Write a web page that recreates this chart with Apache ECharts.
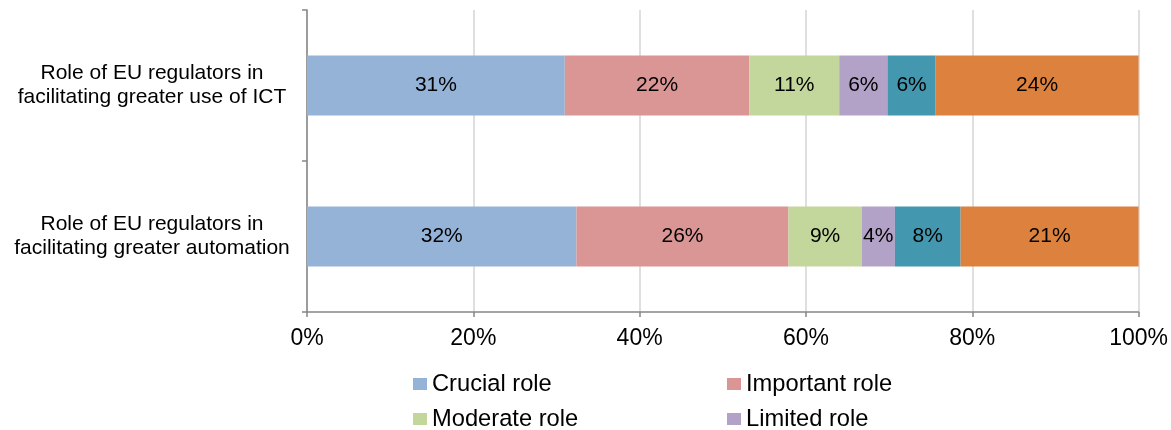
<!DOCTYPE html>
<html>
<head>
<meta charset="utf-8">
<script src="https://cdn.jsdelivr.net/npm/echarts@6/dist/echarts.min.js"></script>
<style>
html,body{margin:0;padding:0;background:#fff;}
#chart{width:1171px;height:430px;}
</style>
</head>
<body>
<div id="chart"></div>
<script>
const categories = ['Role of EU regulators in\nfacilitating greater use of ICT', 'Role of EU regulators in\nfacilitating greater automation'];
const seriesNames = ['Crucial role', 'Important role', 'Moderate role', 'Limited role', 'No role', "Don't know"];
const crucial = [31.0, 32.4];
const important = [22.2, 25.5];
const moderate = [10.8, 8.8];
const limited = [5.8, 4.0];
const noRole = [5.8, 7.9];
const dontKnow = [24.4, 21.4];
const xTicks = [0, 20, 40, 60, 80, 100];

const colors = ['#95b3d7', '#d99694', '#c3d69b', '#b3a2c7', '#4397ae', '#dd823e'];
const values = [crucial, important, moderate, limited, noRole, dontKnow];
const FONT = '"Liberation Sans", Arial, sans-serif';

function legendItem(name, left, top) {
  return {
    data: [name], left: left, top: top, padding: 0,
    itemWidth: 14, itemHeight: 12, icon: 'rect',
    textStyle: {fontSize: 23.7, lineHeight: 24, color: '#000', fontFamily: FONT}
  };
}

const chart = echarts.init(document.getElementById('chart'), null, {renderer: 'canvas'});
chart.setOption({
  animation: false,
  textStyle: {fontFamily: FONT},
  grid: {left: 307, right: 32, top: 10, bottom: 118, containLabel: false},
  legend: [
    legendItem(seriesNames[0], 413, 372),
    legendItem(seriesNames[1], 727, 372),
    legendItem(seriesNames[2], 413, 407),
    legendItem(seriesNames[3], 727, 407)
  ],
  xAxis: {
    type: 'value', min: xTicks[0], max: xTicks[xTicks.length - 1], interval: 20,
    axisLine: {show: true, lineStyle: {color: '#868686', width: 1.5}},
    axisTick: {show: true, length: 5, lineStyle: {color: '#868686', width: 1.5}},
    axisLabel: {formatter: '{value}%', fontSize: 23, color: '#000', margin: 15, fontFamily: FONT},
    splitLine: {show: true, lineStyle: {color: '#d4d4d4', width: 1.5}}
  },
  yAxis: {
    type: 'category', data: categories, inverse: true,
    axisLine: {show: true, lineStyle: {color: '#868686', width: 1.5}},
    axisTick: {show: true, length: 5, lineStyle: {color: '#868686', width: 1.5}},
    axisLabel: {fontSize: 21, color: '#000', lineHeight: 24, align: 'center', margin: 155, fontFamily: FONT}
  },
  series: seriesNames.map((name, i) => ({
    name: name, type: 'bar', stack: 'total', barWidth: 60,
    data: values[i],
    itemStyle: {color: colors[i]},
    label: {show: true, position: 'inside', color: '#000', fontSize: 21, fontFamily: FONT,
      formatter: p => Math.round(p.value) + '%'}
  }))
});
</script>
</body>
</html>
